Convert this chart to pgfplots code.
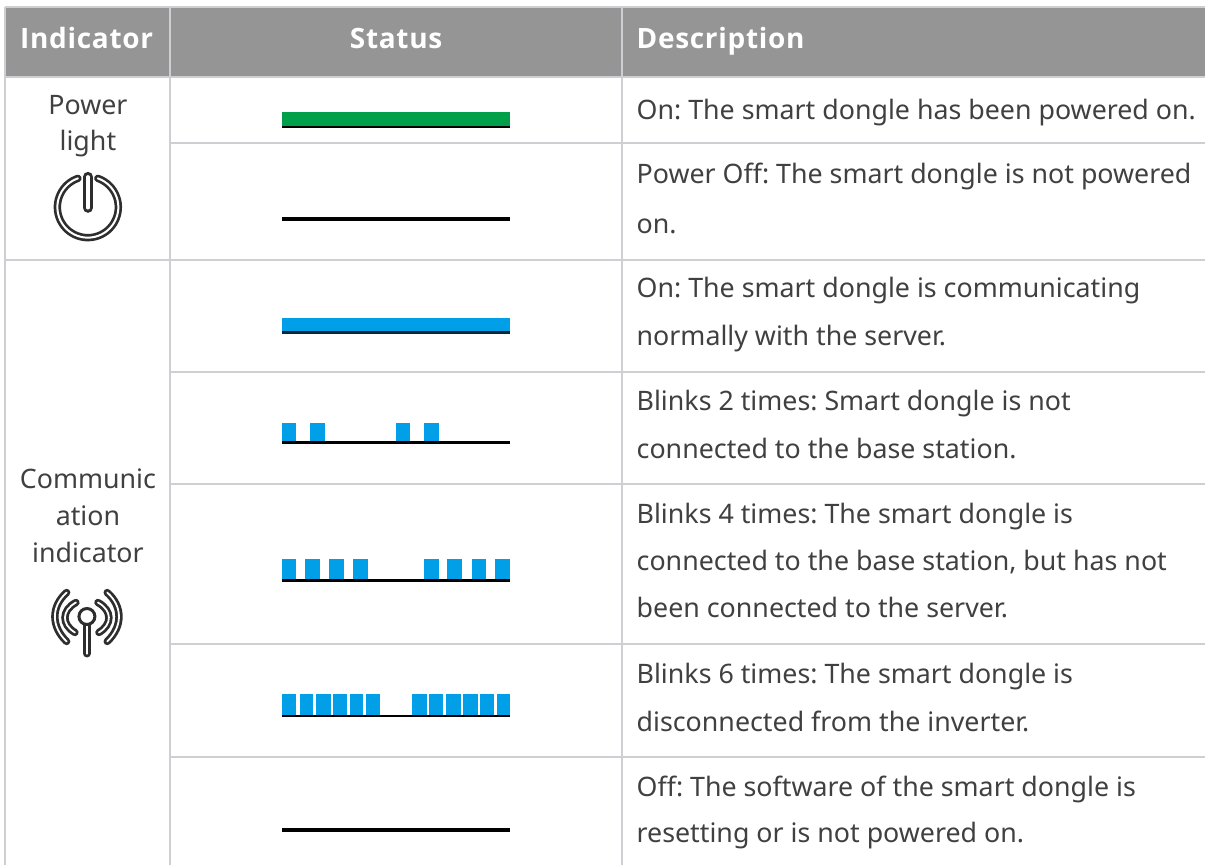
\documentclass[border=0pt]{standalone}
\usepackage{fontspec}
\setmainfont{Noto Sans}
\newfontfamily\hdfont[LetterSpace=2.5]{Open Sans}
\usepackage{pgfplots}
\pgfplotsset{compat=1.18}
\frenchspacing
\definecolor{hd}{HTML}{959595}
\definecolor{rl}{HTML}{CFCFD3}
\definecolor{tx}{HTML}{404040}
\definecolor{gr}{HTML}{00A04A}
\definecolor{bl}{HTML}{009FE8}
\definecolor{ic}{HTML}{2E2E2E}
\newcommand{\seg}[5]{\addplot[fill=#5,draw=none,forget plot] coordinates {(#1,#3)(#2,#3)(#2,#4)(#1,#4)} --cycle;}
\newcommand{\rul}[4]{\addplot[rl,line width=2pt,forget plot] coordinates {(#1,#3)(#2,#4)};}
\newcommand{\dtx}[2]{\node[anchor=base west,text=tx,inner sep=0pt,font=\fontsize{26.8}{30}\selectfont\frenchspacing] at (axis cs:637,#1) {#2};}
\newcommand{\ctx}[2]{\node[anchor=base,text=tx,inner sep=0pt,font=\fontsize{26.8}{30}\selectfont\frenchspacing] at (axis cs:88,#1) {#2};}
\newcommand{\htx}[2]{\node[anchor=base west,text=white,inner sep=0pt,font=\fontsize{28}{30}\hdfont\bfseries] at (axis cs:#1,48.5) {#2};}
\newcommand{\dbl}[3]{\draw[ic,line width=#1,line cap=round] #3; \draw[white,line width=#2,line cap=round] #3;}
\begin{document}
\begin{tikzpicture}
\fill[white] (0,0) rectangle (1206pt,866pt);
\begin{axis}[at={(0,0)},anchor=south west,scale only axis,width=1206pt,height=866pt,
 xmin=0,xmax=1206,ymin=0,ymax=866,y dir=reverse,hide axis,clip=false]
% header
\seg{6}{1206}{8}{77}{hd}
% rules
\rul{5}{1206}{7.5}{7.5}
\rul{5}{1206}{77.5}{77.5}
\rul{170.5}{1206}{143}{143}
\rul{5}{1206}{260.5}{260.5}
\rul{170.5}{1206}{372.5}{372.5}
\rul{170.5}{1206}{484.5}{484.5}
\rul{170.5}{1206}{645}{645}
\rul{170.5}{1206}{757.5}{757.5}
\rul{5.5}{5.5}{7}{866}
\rul{170.5}{170.5}{7}{866}
\rul{622.5}{622.5}{7}{866}
% status bars
\seg{282}{510}{112}{126.5}{gr}
\seg{282}{510}{126}{128.5}{black}
\seg{282}{510}{217}{221}{black}
\seg{282}{510}{318}{332}{bl}
\seg{282}{510}{331.5}{334.5}{black!75!bl}
\seg{282}{296}{423}{442}{bl}
\seg{310}{325}{423}{442}{bl}
\seg{396}{410}{423}{442}{bl}
\seg{424}{439}{423}{442}{bl}
\seg{282}{510}{441.5}{444.5}{black}
\seg{282}{296}{559}{580}{bl}
\seg{305}{320}{559}{580}{bl}
\seg{329}{344}{559}{580}{bl}
\seg{353}{368}{559}{580}{bl}
\seg{424}{439}{559}{580}{bl}
\seg{447}{462}{559}{580}{bl}
\seg{472}{486}{559}{580}{bl}
\seg{495}{510}{559}{580}{bl}
\seg{282}{510}{579.5}{582}{black}
\seg{282}{296}{695}{716}{bl}
\seg{300}{313}{695}{716}{bl}
\seg{316}{331}{695}{716}{bl}
\seg{333}{347}{695}{716}{bl}
\seg{350}{363}{695}{716}{bl}
\seg{366}{380}{695}{716}{bl}
\seg{412}{427}{695}{716}{bl}
\seg{429}{443}{695}{716}{bl}
\seg{446}{461}{695}{716}{bl}
\seg{463}{478}{695}{716}{bl}
\seg{480}{494}{695}{716}{bl}
\seg{497}{510}{695}{716}{bl}
\seg{282}{510}{715.5}{718}{black}
\seg{282}{510}{829}{833}{black}
% header text
\htx{20}{Indicator}
\htx{350}{Status}
\htx{637}{Description}
% first column
\ctx{115}{Power}
\ctx{151}{light}
\ctx{489}{Communic}
\ctx{526}{ation}
\ctx{563}{indicator}
% descriptions
\dtx{120}{On: The smart dongle has been powered on.}
\dtx{184}{Power Off: The smart dongle is not powered}
\dtx{233.5}{on.}
\dtx{298}{On: The smart dongle is communicating}
\dtx{346}{normally with the server.}
\dtx{410.5}{Blinks 2 times: Smart dongle is not}
\dtx{458.5}{connected to the base station.}
\dtx{523.5}{Blinks 4 times: The smart dongle is}
\dtx{571}{connected to the base station, but has not}
\dtx{618}{been connected to the server.}
\dtx{684}{Blinks 6 times: The smart dongle is}
\dtx{732}{disconnected from the inverter.}
\dtx{797}{Off: The software of the smart dongle is}
\dtx{843.5}{resetting or is not powered on.}
% power icon
\dbl{7.4pt}{2pt}{(axis cs:78,178.5) arc[start angle=109,end angle=431,radius=30.5pt]}
\dbl{10pt}{3.4pt}{(axis cs:88,177) -- (axis cs:88,208)}
% signal icon
\dbl{7.4pt}{1.8pt}{(axis cs:66.7,593) .. controls (axis cs:51,607) and (axis cs:51,627) .. (axis cs:66.7,642)}
\dbl{7.4pt}{1.8pt}{(axis cs:76,603) .. controls (axis cs:61.5,611) and (axis cs:61.5,625) .. (axis cs:75,633)}
\dbl{7.4pt}{1.8pt}{(axis cs:107.3,593) .. controls (axis cs:123,607) and (axis cs:123,627) .. (axis cs:107.3,642)}
\dbl{7.4pt}{1.8pt}{(axis cs:98,603) .. controls (axis cs:112.5,611) and (axis cs:112.5,625) .. (axis cs:99,633)}
\dbl{8pt}{2.6pt}{(axis cs:87,625) -- (axis cs:87,654)}
\draw[ic,line width=3pt,fill=white] (axis cs:87,617) circle[radius=8pt];
\end{axis}
\end{tikzpicture}
\end{document}
